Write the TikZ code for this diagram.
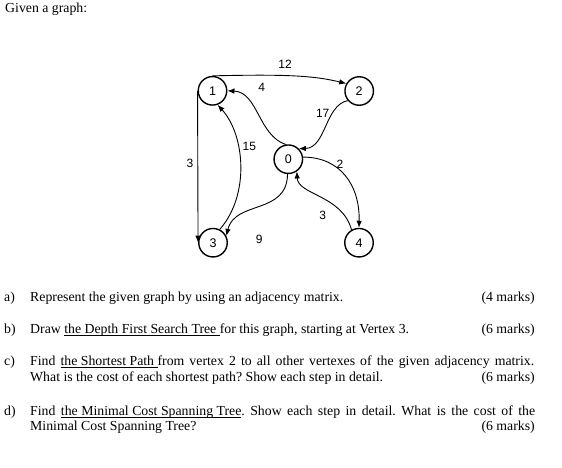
\documentclass[tikz,border=0pt]{standalone}
\usepackage{fontspec}
\setmainfont{Liberation Serif}
\newfontfamily\arialf{Liberation Sans}
\usetikzlibrary{arrows.meta}
\frenchspacing
\newcommand\myul[1]{\setbox0\hbox{#1}\rlap{\rule[-2.2pt]{\wd0}{0.7pt}}\box0}
\tikzset{
  vert/.style={circle, draw, line width=1.4pt, minimum size=28.5pt, inner sep=0pt, font=\arialf\fontsize{12.5}{13}\selectfont},
  edgearr/.style={line width=0.9pt, -{Latex[length=7pt,width=5.5pt]}},
  wlab/.style={font=\arialf\fontsize{12}{13}\selectfont, inner sep=0pt},
  txt/.style={anchor=base west, inner sep=0pt, font=\fontsize{13.8}{16.5}\selectfont},
  txtr/.style={anchor=base east, inner sep=0pt, font=\fontsize{13.8}{16.5}\selectfont}
}
\begin{document}
\begin{tikzpicture}[x=1pt,y=-1pt]
\fill[white] (0,0) rectangle (562,467);
\useasboundingbox (0,0) rectangle (562,467);

\node[txt] (title) at (5,12.5) {Given a graph:};

\node[vert] (n1) at (212.5,90.8) {1};
\node[vert] (n2) at (359.2,91) {2};
\node[vert] (n0) at (288.3,159.2) {0};
\node[vert] (n3) at (213,242.7) {3};
\node[vert] (n4) at (359,242.7) {4};

\draw[edgearr] (n1.north) .. controls (290,74) and (315,76) .. (n2.150);
\draw[edgearr] (n1.west) -- (n3.west);
\draw[edgearr] (n0.100) .. controls (258,135) and (258,92) .. (n1.east);
\draw[edgearr] (n2.220) .. controls (325,105) and (326,148) .. (n0.45);
\draw[edgearr] (n0.8) .. controls (340,157) and (360,185) .. (n4.north);
\draw[edgearr] (n4.120) .. controls (342,195) and (298,195) .. (n0.305);
\draw[edgearr] (n0.267) .. controls (287,215) and (235,200) .. (n3.27);
\draw[edgearr] (n3.63) .. controls (250,195) and (245,135) .. (n1.290);

\node[wlab] (w12) at (285,64) {12};
\node[wlab] (w4) at (261.7,87.7) {4};
\node[wlab] (w17) at (322.7,113.3) {17};
\node[wlab] (w15) at (249.3,146.7) {15};
\node[wlab] (w3a) at (190,163.3) {3};
\node[wlab] (w2) at (340,164.3) {2};
\node[wlab] (w3b) at (322.7,215) {3};
\node[wlab] (w9) at (259.3,239.3) {9};

\node[txt] (la) at (4,301.7) {a)};
\node[txt] (ta) at (30,301.7) {Represent the given graph by using an adjacency matrix.};
\node[txtr] (ma) at (535,301.7) {(4 marks)};

\node[txt] (lb) at (4,333) {b)};
\node[txt] (tb) at (30,333) {Draw \myul{the Depth First Search Tree\ }for this graph, starting at Vertex 3.};
\node[txtr] (mb) at (535,333) {(6 marks)};

\node[txt] (lc) at (4,365) {c)};
\node[txt] (tc1) at (30,365) {\makebox[504pt][s]{Find \myul{the Shortest Path\ }from vertex 2 to all other vertexes of the given adjacency matrix.}};
\node[txt] (tc2) at (30,381.7) {What is the cost of each shortest path? Show each step in detail.};
\node[txtr] (mc) at (535,381.7) {(6 marks)};

\node[txt] (ld) at (4,415) {d)};
\node[txt] (td1) at (30,415) {\makebox[505pt][s]{Find \myul{the Minimal Cost Spanning Tree}. Show each step in detail. What is the cost of the}};
\node[txt] (td2) at (30,430.5) {Minimal Cost Spanning Tree?};
\node[txtr] (md) at (535,430.5) {(6 marks)};
\end{tikzpicture}
\end{document}
